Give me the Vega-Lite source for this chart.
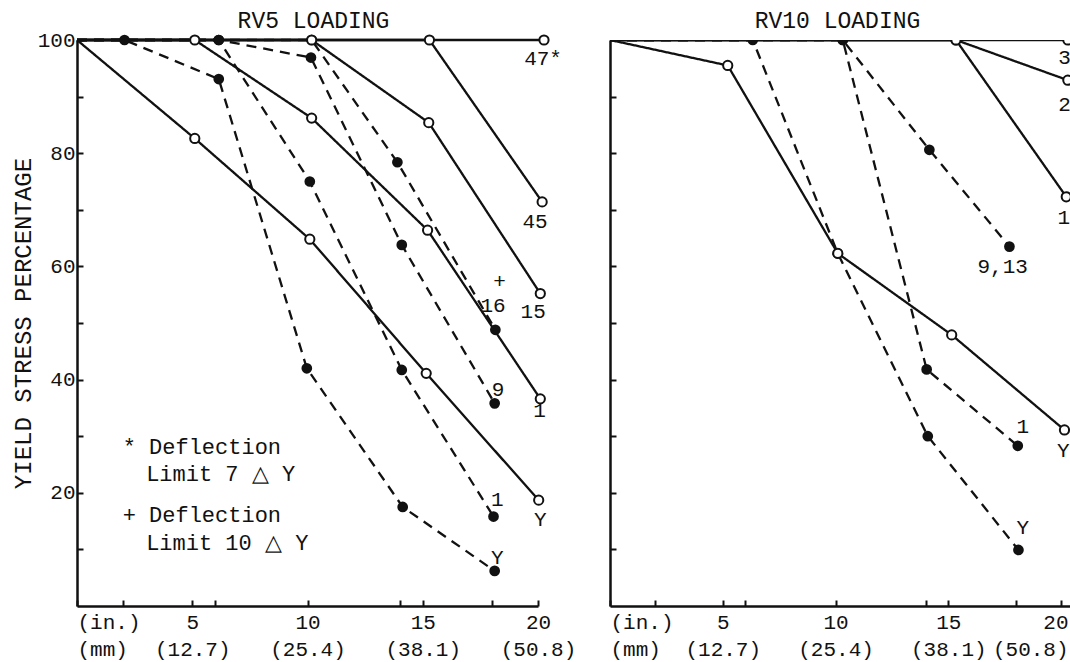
{
  "$schema": "https://vega.github.io/schema/vega-lite/v6.json",
  "background": "white",
  "padding": {"left": 11, "top": 10, "right": 0, "bottom": 2},
  "spacing": 72,
  "bounds": "flush",
  "config": {
    "view": {"stroke": null},
    "font": "Liberation Mono",
    "axis": {
      "grid": false,
      "domainColor": "#111",
      "domainWidth": 2.5,
      "tickColor": "#111",
      "tickWidth": 2,
      "tickSize": -6,
      "labelColor": "#111",
      "labelFont": "Liberation Mono",
      "labelFontSize": 21,
      "titleFont": "Liberation Mono",
      "titleFontWeight": "normal",
      "titleColor": "#111"
    },
    "title": {"font": "Liberation Mono", "fontSize": 23, "fontWeight": "normal", "color": "#111", "anchor": "middle"}
  },
  "datasets": {
    "series": [
      {"panel": "RV5", "series": "Y-solid", "test": "solid", "x": 0, "y": 100},
      {"panel": "RV5", "series": "Y-solid", "test": "solid", "x": 5.11, "y": 82.6},
      {"panel": "RV5", "series": "Y-solid", "test": "solid", "x": 10.1, "y": 64.8},
      {"panel": "RV5", "series": "Y-solid", "test": "solid", "x": 15.15, "y": 41.1},
      {"panel": "RV5", "series": "Y-solid", "test": "solid", "x": 20.03, "y": 18.7},
      {"panel": "RV5", "series": "1-solid", "test": "solid", "x": 0, "y": 100},
      {"panel": "RV5", "series": "1-solid", "test": "solid", "x": 5.11, "y": 100},
      {"panel": "RV5", "series": "1-solid", "test": "solid", "x": 10.18, "y": 86.2},
      {"panel": "RV5", "series": "1-solid", "test": "solid", "x": 15.21, "y": 66.4},
      {"panel": "RV5", "series": "1-solid", "test": "solid", "x": 20.1, "y": 36.6},
      {"panel": "RV5", "series": "15-solid", "test": "solid", "x": 0, "y": 100},
      {"panel": "RV5", "series": "15-solid", "test": "solid", "x": 10.18, "y": 100},
      {"panel": "RV5", "series": "15-solid", "test": "solid", "x": 15.26, "y": 85.4},
      {"panel": "RV5", "series": "15-solid", "test": "solid", "x": 20.1, "y": 55.2},
      {"panel": "RV5", "series": "45-solid", "test": "solid", "x": 0, "y": 100},
      {"panel": "RV5", "series": "45-solid", "test": "solid", "x": 15.29, "y": 100},
      {"panel": "RV5", "series": "45-solid", "test": "solid", "x": 20.18, "y": 71.4},
      {"panel": "RV5", "series": "47-solid", "test": "solid", "x": 0, "y": 100},
      {"panel": "RV5", "series": "47-solid", "test": "solid", "x": 20.26, "y": 100},
      {"panel": "RV5", "series": "Y-dashed", "test": "dashed", "x": 0, "y": 100},
      {"panel": "RV5", "series": "Y-dashed", "test": "dashed", "x": 2.06, "y": 100},
      {"panel": "RV5", "series": "Y-dashed", "test": "dashed", "x": 6.15, "y": 93.1},
      {"panel": "RV5", "series": "Y-dashed", "test": "dashed", "x": 9.97, "y": 42.0},
      {"panel": "RV5", "series": "Y-dashed", "test": "dashed", "x": 14.13, "y": 17.5},
      {"panel": "RV5", "series": "Y-dashed", "test": "dashed", "x": 18.12, "y": 6.2},
      {"panel": "RV5", "series": "1-dashed", "test": "dashed", "x": 0, "y": 100},
      {"panel": "RV5", "series": "1-dashed", "test": "dashed", "x": 6.15, "y": 100},
      {"panel": "RV5", "series": "1-dashed", "test": "dashed", "x": 10.1, "y": 75.0},
      {"panel": "RV5", "series": "1-dashed", "test": "dashed", "x": 14.09, "y": 41.7},
      {"panel": "RV5", "series": "1-dashed", "test": "dashed", "x": 18.07, "y": 15.8},
      {"panel": "RV5", "series": "9-dashed", "test": "dashed", "x": 0, "y": 100},
      {"panel": "RV5", "series": "9-dashed", "test": "dashed", "x": 6.15, "y": 100},
      {"panel": "RV5", "series": "9-dashed", "test": "dashed", "x": 10.15, "y": 96.9},
      {"panel": "RV5", "series": "9-dashed", "test": "dashed", "x": 14.09, "y": 63.8},
      {"panel": "RV5", "series": "9-dashed", "test": "dashed", "x": 18.12, "y": 35.8},
      {"panel": "RV5", "series": "16-dashed", "test": "dashed", "x": 0, "y": 100},
      {"panel": "RV5", "series": "16-dashed", "test": "dashed", "x": 10.18, "y": 100},
      {"panel": "RV5", "series": "16-dashed", "test": "dashed", "x": 13.9, "y": 78.4},
      {"panel": "RV5", "series": "16-dashed", "test": "dashed", "x": 18.15, "y": 48.8},
      {"panel": "RV10", "series": "Y-solid", "test": "solid", "x": 0, "y": 100},
      {"panel": "RV10", "series": "Y-solid", "test": "solid", "x": 5.22, "y": 95.5},
      {"panel": "RV10", "series": "Y-solid", "test": "solid", "x": 10.1, "y": 62.3},
      {"panel": "RV10", "series": "Y-solid", "test": "solid", "x": 15.15, "y": 47.9},
      {"panel": "RV10", "series": "Y-solid", "test": "solid", "x": 20.15, "y": 31.1},
      {"panel": "RV10", "series": "1-solid", "test": "solid", "x": 0, "y": 100},
      {"panel": "RV10", "series": "1-solid", "test": "solid", "x": 15.34, "y": 100},
      {"panel": "RV10", "series": "1-solid", "test": "solid", "x": 20.23, "y": 72.3},
      {"panel": "RV10", "series": "2-solid", "test": "solid", "x": 0, "y": 100},
      {"panel": "RV10", "series": "2-solid", "test": "solid", "x": 15.34, "y": 100},
      {"panel": "RV10", "series": "2-solid", "test": "solid", "x": 20.3, "y": 92.9},
      {"panel": "RV10", "series": "3-solid", "test": "solid", "x": 0, "y": 100},
      {"panel": "RV10", "series": "3-solid", "test": "solid", "x": 20.3, "y": 100},
      {"panel": "RV10", "series": "Y-dashed", "test": "dashed", "x": 0, "y": 100},
      {"panel": "RV10", "series": "Y-dashed", "test": "dashed", "x": 6.33, "y": 100},
      {"panel": "RV10", "series": "Y-dashed", "test": "dashed", "x": 10.1, "y": 62.3},
      {"panel": "RV10", "series": "Y-dashed", "test": "dashed", "x": 14.09, "y": 30.0},
      {"panel": "RV10", "series": "Y-dashed", "test": "dashed", "x": 18.11, "y": 9.9},
      {"panel": "RV10", "series": "1-dashed", "test": "dashed", "x": 0, "y": 100},
      {"panel": "RV10", "series": "1-dashed", "test": "dashed", "x": 10.32, "y": 100},
      {"panel": "RV10", "series": "1-dashed", "test": "dashed", "x": 14.04, "y": 41.8},
      {"panel": "RV10", "series": "1-dashed", "test": "dashed", "x": 18.08, "y": 28.3},
      {"panel": "RV10", "series": "9,13-dashed", "test": "dashed", "x": 0, "y": 100},
      {"panel": "RV10", "series": "9,13-dashed", "test": "dashed", "x": 10.32, "y": 100},
      {"panel": "RV10", "series": "9,13-dashed", "test": "dashed", "x": 14.16, "y": 80.6},
      {"panel": "RV10", "series": "9,13-dashed", "test": "dashed", "x": 17.71, "y": 63.5}
    ],
    "labels": [
      {"panel": "RV5", "t": "47*", "x": 20.22, "y": 96.6},
      {"panel": "RV5", "t": "45", "x": 19.87, "y": 67.9},
      {"panel": "RV5", "t": "15", "x": 19.79, "y": 52.0},
      {"panel": "RV5", "t": "+", "x": 18.33, "y": 57.3},
      {"panel": "RV5", "t": "16", "x": 18.05, "y": 53.0},
      {"panel": "RV5", "t": "1", "x": 20.07, "y": 34.4},
      {"panel": "RV5", "t": "9", "x": 18.27, "y": 38.2},
      {"panel": "RV5", "t": "Y", "x": 20.1, "y": 15.2},
      {"panel": "RV5", "t": "1", "x": 18.23, "y": 18.7},
      {"panel": "RV5", "t": "Y", "x": 18.23, "y": 8.4},
      {"panel": "RV10", "t": "9,13", "x": 17.41, "y": 59.9},
      {"panel": "RV10", "t": "1", "x": 18.3, "y": 31.7},
      {"panel": "RV10", "t": "Y", "x": 18.3, "y": 13.7},
      {"panel": "RV10", "t": "Y", "x": 20.1, "y": 27.3},
      {"panel": "RV10", "t": "1", "x": 20.12, "y": 68.5},
      {"panel": "RV10", "t": "2", "x": 20.15, "y": 88.5},
      {"panel": "RV10", "t": "3", "x": 20.15, "y": 96.8}
    ],
    "notes": [
      {"t": "* Deflection", "x": 1.98, "y": 28.1},
      {"t": "Limit 7 △ Y", "x": 3.0, "y": 23.3},
      {"t": "+ Deflection", "x": 1.98, "y": 16.1},
      {"t": "Limit 10 △ Y", "x": 3.0, "y": 11.1}
    ]
  },
  "hconcat": [
    {
      "width": 461,
      "height": 566,
      "title": {"text": "RV5 LOADING", "dx": 6, "offset": -4},
      "encoding": {
        "x": {
          "field": "x", "type": "quantitative",
          "scale": {"domain": [0, 20], "nice": false, "zero": false},
          "axis": {
            "title": null,
            "values": [0, 2, 5, 6, 10, 14, 15, 18, 20],
            "labelExpr": "datum.value == 0 ? ['(in.)', '(mm)'] : datum.value == 5 ? ['5', '(12.7)'] : datum.value == 10 ? ['10', '(25.4)'] : datum.value == 15 ? ['15', '(38.1)'] : datum.value == 20 ? ['20', '(50.8)'] : ''",
            "labelAlign": {"condition": {"test": "datum.value == 0", "value": "left"}, "value": "center"},
            "labelFlush": false,
            "labelOverlap": false,
            "labelLineHeight": 27,
            "labelPadding": 11
          }
        },
        "y": {
          "field": "y", "type": "quantitative",
          "scale": {"domain": [0, 100], "nice": false},
          "axis": {
            "title": "YIELD STRESS PERCENTAGE",
            "titleFontSize": 24,
            "titlePadding": 2,
            "values": [10, 20, 30, 40, 50, 60, 70, 80, 90, 100],
            "labelExpr": "datum.value % 20 == 0 ? datum.label : ''",
            "labelPadding": 8
          }
        }
      },
      "layer": [
        {
          "data": {"name": "series"},
          "transform": [{"filter": "datum.panel == 'RV5'"}],
          "mark": {"type": "line", "color": "#111", "strokeWidth": 2.3},
          "encoding": {
            "detail": {"field": "series"},
            "strokeDash": {"field": "test", "type": "nominal", "scale": {"domain": ["solid", "dashed"], "range": [[1, 0], [10, 7]]}, "legend": null}
          }
        },
        {
          "data": {"name": "series"},
          "transform": [{"filter": "datum.panel == 'RV5' && datum.test == 'dashed' && datum.x > 0"}],
          "mark": {"type": "point", "shape": "circle", "filled": true, "color": "#111", "size": 115, "opacity": 1}
        },
        {
          "data": {"name": "series"},
          "transform": [{"filter": "datum.panel == 'RV5' && datum.test == 'solid' && datum.x > 0"}],
          "mark": {"type": "point", "shape": "circle", "filled": false, "fill": "white", "fillOpacity": 1, "stroke": "#111", "strokeWidth": 2, "size": 85, "opacity": 1}
        },
        {
          "data": {"name": "labels"},
          "transform": [{"filter": "datum.panel == 'RV5'"}],
          "mark": {"type": "text", "font": "Liberation Mono", "fontSize": 21, "color": "#111", "align": "center", "baseline": "middle"},
          "encoding": {"text": {"field": "t"}}
        },
        {
          "data": {"name": "notes"},
          "mark": {"type": "text", "font": "Liberation Mono", "fontSize": 22, "color": "#111", "align": "left", "baseline": "middle"},
          "encoding": {"text": {"field": "t"}}
        }
      ]
    },
    {
      "width": 461,
      "height": 566,
      "title": {"text": "RV10 LOADING", "dx": -3, "offset": 7},
      "encoding": {
        "x": {
          "field": "x", "type": "quantitative",
          "scale": {"domain": [0, 20.44], "nice": false, "zero": false},
          "axis": {
            "title": null,
            "values": [0, 2, 5, 6, 10, 14, 15, 18, 20],
            "labelExpr": "datum.value == 0 ? ['(in.)', '(mm)'] : datum.value == 5 ? ['5', '(12.7)'] : datum.value == 10 ? ['10', '(25.4)'] : datum.value == 15 ? ['15', '(38.1)'] : datum.value == 20 ? ['20', '(50.8)'] : ''",
            "labelAlign": {"condition": [{"test": "datum.value == 0", "value": "left"}, {"test": "datum.value == 20", "value": "right"}], "value": "center"},
            "labelOffset": {"condition": {"test": "datum.value == 20", "value": 7}, "value": 0},
            "labelFlush": false,
            "labelOverlap": false,
            "labelLineHeight": 27,
            "labelPadding": 11
          }
        },
        "y": {
          "field": "y", "type": "quantitative",
          "scale": {"domain": [0, 100], "nice": false},
          "axis": {
            "title": null,
            "values": [10, 20, 30, 40, 50, 60, 70, 80, 90],
            "labels": false
          }
        }
      },
      "layer": [
        {
          "data": {"name": "series"},
          "transform": [{"filter": "datum.panel == 'RV10'"}],
          "mark": {"type": "line", "color": "#111", "strokeWidth": 2.3, "clip": true},
          "encoding": {
            "detail": {"field": "series"},
            "strokeDash": {"field": "test", "type": "nominal", "scale": {"domain": ["solid", "dashed"], "range": [[1, 0], [10, 7]]}, "legend": null}
          }
        },
        {
          "data": {"name": "series"},
          "transform": [{"filter": "datum.panel == 'RV10' && datum.test == 'dashed' && datum.x > 0"}],
          "mark": {"type": "point", "shape": "circle", "filled": true, "color": "#111", "size": 115, "opacity": 1, "clip": true}
        },
        {
          "data": {"name": "series"},
          "transform": [{"filter": "datum.panel == 'RV10' && datum.test == 'solid' && datum.x > 0"}],
          "mark": {"type": "point", "shape": "circle", "filled": false, "fill": "white", "fillOpacity": 1, "stroke": "#111", "strokeWidth": 2, "size": 85, "opacity": 1, "clip": true}
        },
        {
          "data": {"name": "labels"},
          "transform": [{"filter": "datum.panel == 'RV10'"}],
          "mark": {"type": "text", "font": "Liberation Mono", "fontSize": 21, "color": "#111", "align": "center", "baseline": "middle", "clip": true},
          "encoding": {"text": {"field": "t"}}
        }
      ]
    }
  ]
}
